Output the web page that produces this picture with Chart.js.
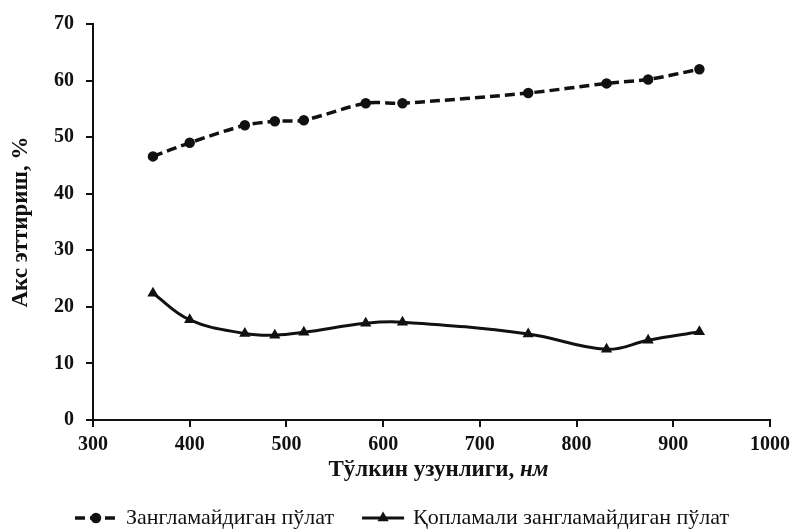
<!DOCTYPE html>
<html>
<head>
<meta charset="utf-8">
<script src="https://cdn.jsdelivr.net/npm/chart.js@4/dist/chart.umd.min.js"></script>
<style>
  html, body { margin: 0; padding: 0; background: #fff; }
</style>
</head>
<body>
<canvas id="chart" width="798" height="530"></canvas>
<script>
// Тўлкин узунлиги (нм) ва акс эттириш (%) қийматлари
const wavelengths = [362, 400, 457, 488, 518, 582, 620, 750, 831, 874, 927];
const plainSteel = [46.6, 49.0, 52.1, 52.8, 53.0, 56.0, 56.0, 57.8, 59.5, 60.2, 62.0];
const coatedSteel = [22.4, 17.7, 15.3, 15.0, 15.5, 17.1, 17.3, 15.2, 12.5, 14.1, 15.6];
const seriesNames = ['Зангламайдиган пўлат', 'Қопламали зангламайдиган пўлат'];
const xTitle = ['Тўлкин узунлиги, ', 'нм'];
const yTitle = 'Акс эттириш, %';

const serif = "'Liberation Serif', 'DejaVu Serif', serif";

function toPoints(xs, ys) {
    return xs.map((x, i) => ({ x: x, y: ys[i] }));
}

// x ўқи номи ва легенда қўлда чизилади
const extrasPlugin = {
    id: 'extras',
    afterDraw(chart) {
        const ctx = chart.ctx;
        const area = chart.chartArea;
        ctx.save();
        ctx.fillStyle = '#111';
        ctx.textBaseline = 'middle';

        // x title: bold + italic "нм"
        ctx.font = 'bold 23px ' + serif;
        const w1 = ctx.measureText(xTitle[0]).width;
        ctx.font = 'italic bold 23px ' + serif;
        const w2 = ctx.measureText(xTitle[1]).width;
        const tx = (area.left + area.right) / 2 + 7 - (w1 + w2) / 2;
        const ty = area.bottom + 50;
        ctx.textAlign = 'left';
        ctx.font = 'bold 23px ' + serif;
        ctx.fillText(xTitle[0], tx, ty);
        ctx.font = 'italic bold 23px ' + serif;
        ctx.fillText(xTitle[1], tx + w1, ty);

        // legend
        ctx.font = '22px ' + serif;
        const lineLen = 42, gapText = 9, gapItem = 28;
        const widths = chart.data.datasets.map(ds => ctx.measureText(ds.label).width);
        const total = widths.reduce((a, b) => a + b, 0) + 2 * (lineLen + gapText) + gapItem;
        let lx = 402 - total / 2;
        const ly = 518;
        chart.data.datasets.forEach((ds, i) => {
            ctx.strokeStyle = ds.borderColor;
            ctx.lineWidth = ds.borderWidth;
            ctx.setLineDash(ds.borderDash || []);
            ctx.beginPath();
            ctx.moveTo(lx, ly);
            ctx.lineTo(lx + lineLen, ly);
            ctx.stroke();
            ctx.setLineDash([]);
            Chart.helpers.drawPoint(ctx, {
                pointStyle: ds.pointStyle,
                radius: 3.5,
                borderWidth: 1
            }, lx + lineLen / 2, ly);
            ctx.fillStyle = '#111';
            ctx.fillText(ds.label, lx + lineLen + gapText, ly);
            lx += lineLen + gapText + widths[i] + gapItem;
        });
        ctx.restore();
    }
};

const ctx = document.getElementById('chart').getContext('2d');
const chart = new Chart(ctx, {
    type: 'line',
    data: {
        datasets: [{
            label: seriesNames[0],
            data: toPoints(wavelengths, plainSteel),
            borderColor: '#111',
            backgroundColor: '#111',
            borderWidth: 3.5,
            borderDash: [10, 5],
            pointStyle: 'circle',
            pointRadius: 3.5,
            pointBackgroundColor: '#111',
            pointBorderColor: '#111',
            tension: 0.3,
            fill: false
        }, {
            label: seriesNames[1],
            data: toPoints(wavelengths, coatedSteel),
            borderColor: '#111',
            backgroundColor: '#111',
            borderWidth: 3,
            pointStyle: 'triangle',
            pointRadius: 3.5,
            pointBackgroundColor: '#111',
            pointBorderColor: '#111',
            tension: 0.4,
            fill: false
        }]
    },
    options: {
        responsive: false,
        animation: false,
        devicePixelRatio: 1,
        layout: { padding: { top: 24, right: 28, left: 0, bottom: 40 } },
        plugins: {
            legend: { display: false },
            tooltip: { enabled: false }
        },
        scales: {
            x: {
                type: 'linear',
                min: 300,
                max: 1000,
                ticks: {
                    stepSize: 100,
                    color: '#111',
                    padding: 6,
                    callback: v => String(v),
                    font: { family: serif, size: 20, weight: 'bold' }
                },
                grid: {
                    drawOnChartArea: false,
                    drawTicks: true,
                    tickLength: 7,
                    color: '#111',
                    lineWidth: 2
                },
                border: { color: '#111', width: 2 },
                afterFit(scale) { scale.height = 70; }
            },
            y: {
                type: 'linear',
                min: 0,
                max: 70,
                ticks: {
                    stepSize: 10,
                    color: '#111',
                    padding: 12,
                    font: { family: serif, size: 20, weight: 'bold' }
                },
                grid: {
                    drawOnChartArea: false,
                    drawTicks: true,
                    tickLength: 7,
                    color: '#111',
                    lineWidth: 2
                },
                border: { color: '#111', width: 2 },
                title: {
                    display: true,
                    text: yTitle,
                    color: '#111',
                    padding: { top: 7, bottom: 0 },
                    font: { family: serif, size: 23, weight: 'bold' }
                },
                afterFit(scale) { scale.width = 93; }
            }
        }
    },
    plugins: [extrasPlugin]
});
</script>
</body>
</html>
